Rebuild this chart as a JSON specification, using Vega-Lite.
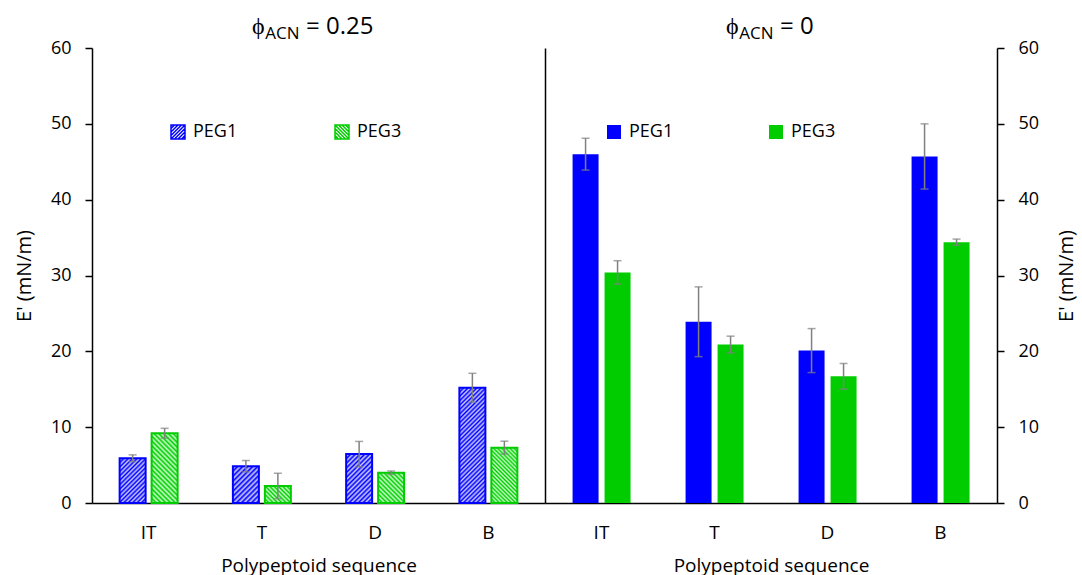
{
"$schema": "https://vega.github.io/schema/vega-lite/v6.json",
"padding": {"left": 14, "top": 15, "right": 4, "bottom": 0},
"background": "white",
"spacing": 0,
"bounds": "flush",
"resolve": {"scale": {"fill": "independent", "stroke": "independent", "shape": "independent"}, "legend": {"fill": "independent", "stroke": "independent", "shape": "independent"}},
"datasets": {
"acn": [
{"seq":"IT","series":"PEG1","E":5.9,"lo":5.45,"hi":6.35},
{"seq":"IT","series":"PEG3","E":9.2,"lo":8.55,"hi":9.85},
{"seq":"T","series":"PEG1","E":4.85,"lo":4.1,"hi":5.6},
{"seq":"T","series":"PEG3","E":2.25,"lo":0.58,"hi":3.92},
{"seq":"D","series":"PEG1","E":6.45,"lo":4.78,"hi":8.12},
{"seq":"D","series":"PEG3","E":4.0,"lo":3.78,"hi":4.22},
{"seq":"B","series":"PEG1","E":15.2,"lo":13.3,"hi":17.1},
{"seq":"B","series":"PEG3","E":7.3,"lo":6.45,"hi":8.15}
],
"zero": [
{"seq":"IT","series":"PEG1","E":46.0,"lo":43.9,"hi":48.1},
{"seq":"IT","series":"PEG3","E":30.4,"lo":28.85,"hi":31.95},
{"seq":"T","series":"PEG1","E":23.9,"lo":19.3,"hi":28.5},
{"seq":"T","series":"PEG3","E":20.9,"lo":19.8,"hi":22.0},
{"seq":"D","series":"PEG1","E":20.1,"lo":17.2,"hi":23.0},
{"seq":"D","series":"PEG3","E":16.7,"lo":15.0,"hi":18.4},
{"seq":"B","series":"PEG1","E":45.7,"lo":41.4,"hi":50.0},
{"seq":"B","series":"PEG3","E":34.4,"lo":34.0,"hi":34.8}
]
},
"hconcat": [
{
"width": 453, "height": 455,
"data": {"name": "acn"},
"title": {"text": "\u03d5\u00a0\u00a0\u00a0\u00a0\u00a0\u2009 = 0.25", "subtitle": "\u200b\u00a0\u00a0\u00a0ACN", "anchor": "start", "frame": "group", "dx": 160, "offset": -3},
"encoding": {
"x": {"field": "seq", "type": "nominal", "sort": ["IT","T","D","B"], "scale": {"paddingInner": 0.488, "paddingOuter": 0.244}, "axis": {"title": "Polypeptoid sequence"}},
"xOffset": {"field": "series", "type": "nominal", "sort": ["PEG1","PEG3"], "scale": {"paddingInner": 0.1875, "paddingOuter": 0}}
},
"layer": [
{
"mark": {"type": "bar", "strokeWidth": 2},
"encoding": {
"y": {"field": "E", "type": "quantitative", "scale": {"domain": [0, 60]}, "axis": {"title": "E' (mN/m)", "values": [0,10,20,30,40,50,60], "orient": "left"}},
"stroke": {"condition": {"test": "datum.series === 'PEG1'", "value": "#0000ff"}, "value": "#00cc00"},
"fill": {"condition": [
 {"test": "datum.seq === 'IT' && datum.series === 'PEG1'", "value": {"gradient": "linear", "x1": 0, "y1": 0, "x2": 0.687, "y2": 1.182, "stops": [{"offset":0,"color":"#00f"},{"offset":0.031,"color":"#ccf"},{"offset":0.063,"color":"#00f"},{"offset":0.094,"color":"#ccf"},{"offset":0.125,"color":"#00f"},{"offset":0.156,"color":"#ccf"},{"offset":0.188,"color":"#00f"},{"offset":0.219,"color":"#ccf"},{"offset":0.25,"color":"#00f"},{"offset":0.281,"color":"#ccf"},{"offset":0.313,"color":"#00f"},{"offset":0.344,"color":"#ccf"},{"offset":0.375,"color":"#00f"},{"offset":0.406,"color":"#ccf"},{"offset":0.438,"color":"#00f"},{"offset":0.469,"color":"#ccf"},{"offset":0.5,"color":"#00f"},{"offset":0.531,"color":"#ccf"},{"offset":0.563,"color":"#00f"},{"offset":0.594,"color":"#ccf"},{"offset":0.625,"color":"#00f"},{"offset":0.656,"color":"#ccf"},{"offset":0.688,"color":"#00f"},{"offset":0.719,"color":"#ccf"},{"offset":0.75,"color":"#00f"},{"offset":0.781,"color":"#ccf"},{"offset":0.813,"color":"#00f"},{"offset":0.844,"color":"#ccf"},{"offset":0.875,"color":"#00f"},{"offset":0.906,"color":"#ccf"},{"offset":0.938,"color":"#00f"},{"offset":0.969,"color":"#ccf"},{"offset":1,"color":"#00f"}]}},
 {"test": "datum.seq === 'D' && datum.series === 'PEG1'", "value": {"gradient": "linear", "x1": 0, "y1": 0, "x2": 0.635, "y2": 1.194, "stops": [{"offset":0,"color":"#00f"},{"offset":0.031,"color":"#ccf"},{"offset":0.063,"color":"#00f"},{"offset":0.094,"color":"#ccf"},{"offset":0.125,"color":"#00f"},{"offset":0.156,"color":"#ccf"},{"offset":0.188,"color":"#00f"},{"offset":0.219,"color":"#ccf"},{"offset":0.25,"color":"#00f"},{"offset":0.281,"color":"#ccf"},{"offset":0.313,"color":"#00f"},{"offset":0.344,"color":"#ccf"},{"offset":0.375,"color":"#00f"},{"offset":0.406,"color":"#ccf"},{"offset":0.438,"color":"#00f"},{"offset":0.469,"color":"#ccf"},{"offset":0.5,"color":"#00f"},{"offset":0.531,"color":"#ccf"},{"offset":0.563,"color":"#00f"},{"offset":0.594,"color":"#ccf"},{"offset":0.625,"color":"#00f"},{"offset":0.656,"color":"#ccf"},{"offset":0.688,"color":"#00f"},{"offset":0.719,"color":"#ccf"},{"offset":0.75,"color":"#00f"},{"offset":0.781,"color":"#ccf"},{"offset":0.813,"color":"#00f"},{"offset":0.844,"color":"#ccf"},{"offset":0.875,"color":"#00f"},{"offset":0.906,"color":"#ccf"},{"offset":0.938,"color":"#00f"},{"offset":0.969,"color":"#ccf"},{"offset":1,"color":"#00f"}]}},
 {"test": "datum.seq === 'T' && datum.series === 'PEG1'", "value": {"gradient": "linear", "x1": 0, "y1": 0, "x2": 0.805, "y2": 1.138, "stops": [{"offset":0,"color":"#00f"},{"offset":0.04,"color":"#ccf"},{"offset":0.08,"color":"#00f"},{"offset":0.12,"color":"#ccf"},{"offset":0.16,"color":"#00f"},{"offset":0.2,"color":"#ccf"},{"offset":0.24,"color":"#00f"},{"offset":0.28,"color":"#ccf"},{"offset":0.32,"color":"#00f"},{"offset":0.36,"color":"#ccf"},{"offset":0.4,"color":"#00f"},{"offset":0.44,"color":"#ccf"},{"offset":0.48,"color":"#00f"},{"offset":0.52,"color":"#ccf"},{"offset":0.56,"color":"#00f"},{"offset":0.6,"color":"#ccf"},{"offset":0.64,"color":"#00f"},{"offset":0.68,"color":"#ccf"},{"offset":0.72,"color":"#00f"},{"offset":0.76,"color":"#ccf"},{"offset":0.8,"color":"#00f"},{"offset":0.84,"color":"#ccf"},{"offset":0.88,"color":"#00f"},{"offset":0.92,"color":"#ccf"},{"offset":0.96,"color":"#00f"},{"offset":1,"color":"#ccf"}]}},
 {"test": "datum.seq === 'B' && datum.series === 'PEG1'", "value": {"gradient": "linear", "x1": 0, "y1": 0, "x2": 0.263, "y2": 1.166, "stops": [{"offset":0,"color":"#00f"},{"offset":0.0156,"color":"#ccf"},{"offset":0.0313,"color":"#00f"},{"offset":0.0469,"color":"#ccf"},{"offset":0.0625,"color":"#00f"},{"offset":0.0781,"color":"#ccf"},{"offset":0.0938,"color":"#00f"},{"offset":0.1094,"color":"#ccf"},{"offset":0.125,"color":"#00f"},{"offset":0.1406,"color":"#ccf"},{"offset":0.1563,"color":"#00f"},{"offset":0.1719,"color":"#ccf"},{"offset":0.1875,"color":"#00f"},{"offset":0.2031,"color":"#ccf"},{"offset":0.2188,"color":"#00f"},{"offset":0.2344,"color":"#ccf"},{"offset":0.25,"color":"#00f"},{"offset":0.2656,"color":"#ccf"},{"offset":0.2813,"color":"#00f"},{"offset":0.2969,"color":"#ccf"},{"offset":0.3125,"color":"#00f"},{"offset":0.3281,"color":"#ccf"},{"offset":0.3438,"color":"#00f"},{"offset":0.3594,"color":"#ccf"},{"offset":0.375,"color":"#00f"},{"offset":0.3906,"color":"#ccf"},{"offset":0.4063,"color":"#00f"},{"offset":0.4219,"color":"#ccf"},{"offset":0.4375,"color":"#00f"},{"offset":0.4531,"color":"#ccf"},{"offset":0.4688,"color":"#00f"},{"offset":0.4844,"color":"#ccf"},{"offset":0.5,"color":"#00f"},{"offset":0.5156,"color":"#ccf"},{"offset":0.5313,"color":"#00f"},{"offset":0.5469,"color":"#ccf"},{"offset":0.5625,"color":"#00f"},{"offset":0.5781,"color":"#ccf"},{"offset":0.5938,"color":"#00f"},{"offset":0.6094,"color":"#ccf"},{"offset":0.625,"color":"#00f"},{"offset":0.6406,"color":"#ccf"},{"offset":0.6563,"color":"#00f"},{"offset":0.6719,"color":"#ccf"},{"offset":0.6875,"color":"#00f"},{"offset":0.7031,"color":"#ccf"},{"offset":0.7188,"color":"#00f"},{"offset":0.7344,"color":"#ccf"},{"offset":0.75,"color":"#00f"},{"offset":0.7656,"color":"#ccf"},{"offset":0.7813,"color":"#00f"},{"offset":0.7969,"color":"#ccf"},{"offset":0.8125,"color":"#00f"},{"offset":0.8281,"color":"#ccf"},{"offset":0.8438,"color":"#00f"},{"offset":0.8594,"color":"#ccf"},{"offset":0.875,"color":"#00f"},{"offset":0.8906,"color":"#ccf"},{"offset":0.9063,"color":"#00f"},{"offset":0.9219,"color":"#ccf"},{"offset":0.9375,"color":"#00f"},{"offset":0.9531,"color":"#ccf"},{"offset":0.9688,"color":"#00f"},{"offset":0.9844,"color":"#ccf"},{"offset":1,"color":"#00f"}]}},
 {"test": "datum.seq === 'IT' && datum.series === 'PEG3'", "value": {"gradient": "linear", "x1": 0, "y1": 1, "x2": 0.449, "y2": -0.205, "stops": [{"offset":0,"color":"#0c0"},{"offset":0.025,"color":"#cfc"},{"offset":0.05,"color":"#0c0"},{"offset":0.075,"color":"#cfc"},{"offset":0.1,"color":"#0c0"},{"offset":0.125,"color":"#cfc"},{"offset":0.15,"color":"#0c0"},{"offset":0.175,"color":"#cfc"},{"offset":0.2,"color":"#0c0"},{"offset":0.225,"color":"#cfc"},{"offset":0.25,"color":"#0c0"},{"offset":0.275,"color":"#cfc"},{"offset":0.3,"color":"#0c0"},{"offset":0.325,"color":"#cfc"},{"offset":0.35,"color":"#0c0"},{"offset":0.375,"color":"#cfc"},{"offset":0.4,"color":"#0c0"},{"offset":0.425,"color":"#cfc"},{"offset":0.45,"color":"#0c0"},{"offset":0.475,"color":"#cfc"},{"offset":0.5,"color":"#0c0"},{"offset":0.525,"color":"#cfc"},{"offset":0.55,"color":"#0c0"},{"offset":0.575,"color":"#cfc"},{"offset":0.6,"color":"#0c0"},{"offset":0.625,"color":"#cfc"},{"offset":0.65,"color":"#0c0"},{"offset":0.675,"color":"#cfc"},{"offset":0.7,"color":"#0c0"},{"offset":0.725,"color":"#cfc"},{"offset":0.75,"color":"#0c0"},{"offset":0.775,"color":"#cfc"},{"offset":0.8,"color":"#0c0"},{"offset":0.825,"color":"#cfc"},{"offset":0.85,"color":"#0c0"},{"offset":0.875,"color":"#cfc"},{"offset":0.9,"color":"#0c0"},{"offset":0.925,"color":"#cfc"},{"offset":0.95,"color":"#0c0"},{"offset":0.975,"color":"#cfc"},{"offset":1,"color":"#0c0"}]}},
 {"test": "datum.seq === 'B' && datum.series === 'PEG3'", "value": {"gradient": "linear", "x1": 0, "y1": 1, "x2": 0.566, "y2": -0.204, "stops": [{"offset":0,"color":"#0c0"},{"offset":0.025,"color":"#cfc"},{"offset":0.05,"color":"#0c0"},{"offset":0.075,"color":"#cfc"},{"offset":0.1,"color":"#0c0"},{"offset":0.125,"color":"#cfc"},{"offset":0.15,"color":"#0c0"},{"offset":0.175,"color":"#cfc"},{"offset":0.2,"color":"#0c0"},{"offset":0.225,"color":"#cfc"},{"offset":0.25,"color":"#0c0"},{"offset":0.275,"color":"#cfc"},{"offset":0.3,"color":"#0c0"},{"offset":0.325,"color":"#cfc"},{"offset":0.35,"color":"#0c0"},{"offset":0.375,"color":"#cfc"},{"offset":0.4,"color":"#0c0"},{"offset":0.425,"color":"#cfc"},{"offset":0.45,"color":"#0c0"},{"offset":0.475,"color":"#cfc"},{"offset":0.5,"color":"#0c0"},{"offset":0.525,"color":"#cfc"},{"offset":0.55,"color":"#0c0"},{"offset":0.575,"color":"#cfc"},{"offset":0.6,"color":"#0c0"},{"offset":0.625,"color":"#cfc"},{"offset":0.65,"color":"#0c0"},{"offset":0.675,"color":"#cfc"},{"offset":0.7,"color":"#0c0"},{"offset":0.725,"color":"#cfc"},{"offset":0.75,"color":"#0c0"},{"offset":0.775,"color":"#cfc"},{"offset":0.8,"color":"#0c0"},{"offset":0.825,"color":"#cfc"},{"offset":0.85,"color":"#0c0"},{"offset":0.875,"color":"#cfc"},{"offset":0.9,"color":"#0c0"},{"offset":0.925,"color":"#cfc"},{"offset":0.95,"color":"#0c0"},{"offset":0.975,"color":"#cfc"},{"offset":1,"color":"#0c0"}]}},
 {"test": "datum.seq === 'T' && datum.series === 'PEG3'", "value": {"gradient": "linear", "x1": 0, "y1": 1, "x2": 1.158, "y2": 0.24, "stops": [{"offset":0,"color":"#0c0"},{"offset":0.05,"color":"#cfc"},{"offset":0.1,"color":"#0c0"},{"offset":0.15,"color":"#cfc"},{"offset":0.2,"color":"#0c0"},{"offset":0.25,"color":"#cfc"},{"offset":0.3,"color":"#0c0"},{"offset":0.35,"color":"#cfc"},{"offset":0.4,"color":"#0c0"},{"offset":0.45,"color":"#cfc"},{"offset":0.5,"color":"#0c0"},{"offset":0.55,"color":"#cfc"},{"offset":0.6,"color":"#0c0"},{"offset":0.65,"color":"#cfc"},{"offset":0.7,"color":"#0c0"},{"offset":0.75,"color":"#cfc"},{"offset":0.8,"color":"#0c0"},{"offset":0.85,"color":"#cfc"},{"offset":0.9,"color":"#0c0"},{"offset":0.95,"color":"#cfc"},{"offset":1,"color":"#0c0"}]}}
],
"value": {"gradient": "linear", "x1": 0, "y1": 1, "x2": 0.918, "y2": -0.071, "stops": [{"offset":0,"color":"#0c0"},{"offset":0.04,"color":"#cfc"},{"offset":0.08,"color":"#0c0"},{"offset":0.12,"color":"#cfc"},{"offset":0.16,"color":"#0c0"},{"offset":0.2,"color":"#cfc"},{"offset":0.24,"color":"#0c0"},{"offset":0.28,"color":"#cfc"},{"offset":0.32,"color":"#0c0"},{"offset":0.36,"color":"#cfc"},{"offset":0.4,"color":"#0c0"},{"offset":0.44,"color":"#cfc"},{"offset":0.48,"color":"#0c0"},{"offset":0.52,"color":"#cfc"},{"offset":0.56,"color":"#0c0"},{"offset":0.6,"color":"#cfc"},{"offset":0.64,"color":"#0c0"},{"offset":0.68,"color":"#cfc"},{"offset":0.72,"color":"#0c0"},{"offset":0.76,"color":"#cfc"},{"offset":0.8,"color":"#0c0"},{"offset":0.84,"color":"#cfc"},{"offset":0.88,"color":"#0c0"},{"offset":0.92,"color":"#cfc"},{"offset":0.96,"color":"#0c0"},{"offset":1,"color":"#cfc"}]}
}
}
},
{
"mark": {"type": "point", "opacity": 0, "filled": false, "strokeWidth": 1.5},
"encoding": {
"y": {"field": "E", "type": "quantitative", "axis": null},
"shape": {"field": "series", "type": "nominal", "scale": {"domain": ["PEG1","PEG3"], "range": ["M-1,-1H1V1H-1Z M-1,-0.5L-0.5,-1 M-1,0L0,-1 M-1,0.5L0.5,-1 M-1,1L1,-1 M-0.5,1L1,-0.5 M0,1L1,0 M0.5,1L1,0.5", "M-1,-1H1V1H-1Z M1,-0.5L0.5,-1 M1,0L0,-1 M1,0.5L-0.5,-1 M1,1L-1,-1 M0.5,1L-1,-0.5 M0,1L-1,0 M-0.5,1L-1,0.5"]},
 "legend": {"orient": "none", "legendX": 77, "legendY": 75, "direction": "horizontal", "title": null, "symbolSize": 196, "symbolStrokeWidth": 1.5, "symbolOpacity": 1, "labelFontSize": 18, "labelOffset": 6, "columnPadding": 94, "padding": 0}},
"stroke": {"field": "series", "type": "nominal", "scale": {"domain": ["PEG1","PEG3"], "range": ["#0000ff","#00cc00"]},
 "legend": {"orient": "none", "legendX": 77, "legendY": 75, "direction": "horizontal", "title": null, "symbolSize": 196, "symbolStrokeWidth": 1.5, "symbolOpacity": 1, "labelFontSize": 18, "labelOffset": 6, "columnPadding": 94, "padding": 0}}
}
},
{
"mark": {"type": "rule", "color": "#808080", "strokeWidth": 1.5},
"encoding": {
"y": {"field": "lo", "type": "quantitative", "scale": {"domain": [0, 60]}, "axis": {"orient": "right", "labels": false, "ticks": false, "title": null, "values": [0, 60]}},
"y2": {"field": "hi"}
}
},
{
"mark": {"type": "tick", "color": "#808080", "thickness": 1.5, "size": 8},
"encoding": {"y": {"field": "lo", "type": "quantitative", "axis": null}}
},
{
"mark": {"type": "tick", "color": "#808080", "thickness": 1.5, "size": 8},
"encoding": {"y": {"field": "hi", "type": "quantitative", "axis": null}}
}
],
"resolve": {"axis": {"y": "independent"}}
},
{
"width": 452, "height": 455,
"data": {"name": "zero"},
"title": {"text": "\u03d5\u00a0\u00a0\u00a0\u00a0\u00a0\u2009 = 0", "subtitle": "\u200b\u00a0\u00a0\u00a0ACN", "anchor": "start", "frame": "group", "dx": 181, "offset": -3},
"encoding": {
"x": {"field": "seq", "type": "nominal", "sort": ["IT","T","D","B"], "scale": {"paddingInner": 0.488, "paddingOuter": 0.244}, "axis": {"title": "Polypeptoid sequence"}},
"xOffset": {"field": "series", "type": "nominal", "sort": ["PEG1","PEG3"], "scale": {"paddingInner": 0.1875, "paddingOuter": 0}}
},
"layer": [
{
"mark": {"type": "bar"},
"encoding": {
"y": {"field": "E", "type": "quantitative", "scale": {"domain": [0, 60]}, "axis": {"title": "E' (mN/m)", "values": [0,10,20,30,40,50,60], "orient": "right", "titleAngle": 270, "titleBaseline": "top", "titlePadding": 18}},
"fill": {"field": "series", "type": "nominal", "scale": {"domain": ["PEG1","PEG3"], "range": ["#0000ff","#00cc00"]},
 "legend": {"orient": "none", "legendX": 60, "legendY": 75, "direction": "horizontal", "title": null, "symbolType": "square", "symbolSize": 196, "symbolStrokeWidth": 0, "labelFontSize": 18, "labelOffset": 6, "columnPadding": 93, "padding": 0}}
}
},
{
"mark": {"type": "rule", "color": "#808080", "strokeWidth": 1.5},
"encoding": {"y": {"field": "lo", "type": "quantitative"}, "y2": {"field": "hi"}}
},
{
"mark": {"type": "tick", "color": "#808080", "thickness": 1.5, "size": 8},
"encoding": {"y": {"field": "lo", "type": "quantitative"}}
},
{
"mark": {"type": "tick", "color": "#808080", "thickness": 1.5, "size": 8},
"encoding": {"y": {"field": "hi", "type": "quantitative"}}
}
]
}
],
"config": {
"font": "Open Sans",
"view": {"stroke": null},
"title": {"fontSize": 24, "fontWeight": "normal", "color": "#000", "subtitleFontSize": 17, "subtitleColor": "#000", "subtitleFont": "Open Sans", "subtitlePadding": -13, "font": "Open Sans"},
"axis": {"domainColor": "#000", "domainWidth": 1.5, "tickColor": "#000", "tickWidth": 1.5, "labelColor": "#000", "titleColor": "#000", "titleFontWeight": "normal", "grid": false, "labelFont": "Open Sans", "titleFont": "Open Sans"},
"axisX": {"labelFontSize": 19, "labelAngle": 0, "ticks": false, "tickSize": 0, "labelPadding": 20, "titleFontSize": 19, "titlePadding": 14},
"axisY": {"labelFontSize": 18, "tickSize": 7, "labelPadding": 14, "titleFontSize": 20, "titlePadding": 16},
"legend": {"labelColor": "#000", "labelFont": "Open Sans"}
}
}
